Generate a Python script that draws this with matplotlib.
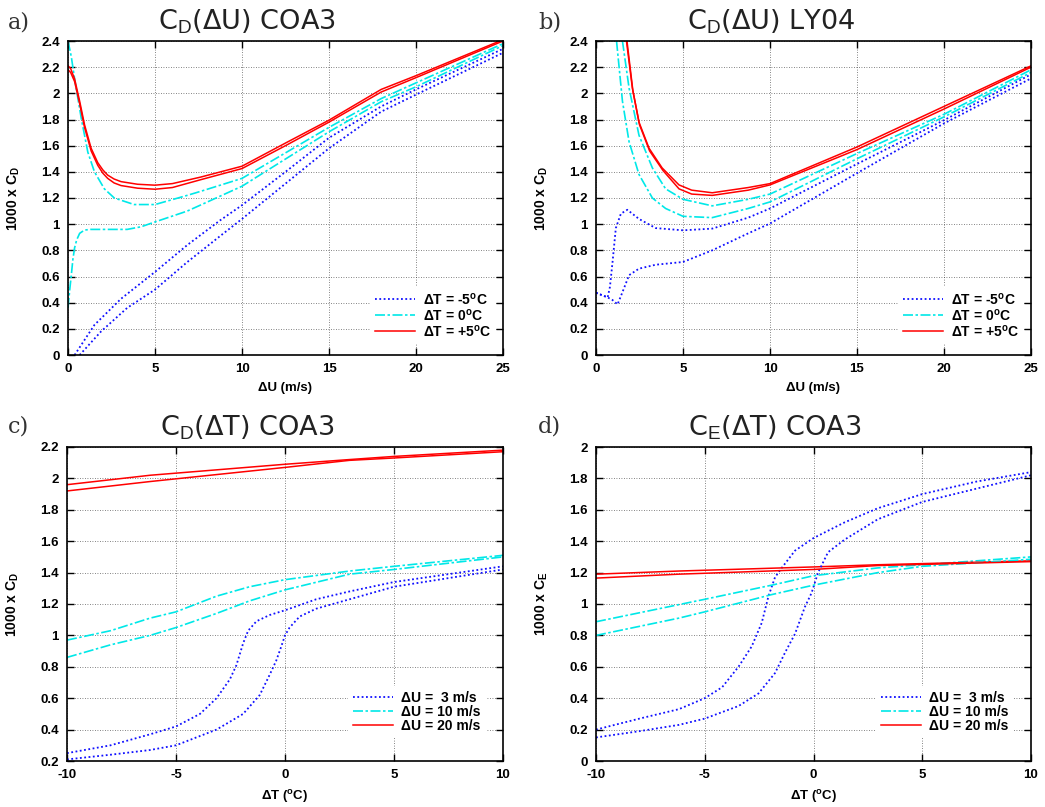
import matplotlib
matplotlib.use('Agg')
import matplotlib.pyplot as plt
from matplotlib.ticker import FuncFormatter

plt.rcParams['font.family'] = ['Liberation Sans', 'DejaVu Sans']
plt.rcParams['mathtext.fontset'] = 'custom'
plt.rcParams['mathtext.rm'] = 'Liberation Sans'
plt.rcParams['mathtext.bf'] = 'Liberation Sans:bold'
plt.rcParams['mathtext.it'] = 'Liberation Sans:italic'

# ---- panel a: C_D(dU) COA3 ----
a_m5_1_x = [0.38, 1.52, 3.05, 5, 6.85, 8.75, 10, 12.5, 15, 18, 20, 25]
a_m5_1_y = [0.0, 0.23, 0.43, 0.635, 0.84, 1.03, 1.145, 1.40, 1.66, 1.90, 2.03, 2.34]
a_m5_2_x = [0.67, 1.9, 3.4, 5, 6.85, 8.75, 10, 12.5, 15, 18, 20, 25]
a_m5_2_y = [0.0, 0.18, 0.36, 0.50, 0.71, 0.91, 1.04, 1.31, 1.58, 1.86, 1.99, 2.31]
a_0_1_x = [0, 0.19, 0.38, 0.76, 1.14, 1.52, 2.09, 2.66, 3.8, 5, 6.85, 7.6, 10, 15, 18, 20, 25]
a_0_1_y = [2.4, 2.28, 2.11, 1.81, 1.55, 1.40, 1.27, 1.20, 1.15, 1.15, 1.22, 1.25, 1.35, 1.74, 1.96, 2.08, 2.38]
a_0_2_x = [0, 0.1, 0.19, 0.28, 0.38, 0.5, 0.67, 0.95, 1.3, 1.9, 3.4, 4.2, 5, 6.85, 7.6, 10, 15, 18, 20, 25]
a_0_2_y = [0.36, 0.50, 0.61, 0.73, 0.82, 0.88, 0.93, 0.955, 0.96, 0.96, 0.96, 0.98, 1.017, 1.10, 1.145, 1.29, 1.706, 1.936, 2.05, 2.365]
a_p5_1_x = [0, 0.15, 0.38, 0.67, 0.95, 1.33, 1.71, 2.0, 2.28, 2.65, 3.05, 4, 5, 6, 7.63, 10, 12.5, 15, 18, 20, 25]
a_p5_1_y = [2.21, 2.19, 2.11, 1.94, 1.76, 1.58, 1.47, 1.415, 1.375, 1.345, 1.325, 1.305, 1.298, 1.31, 1.36, 1.443, 1.62, 1.795, 2.03, 2.135, 2.41]
a_p5_2_x = [0, 0.15, 0.38, 0.67, 0.95, 1.33, 1.71, 2.0, 2.28, 2.65, 3.05, 4, 5, 6, 7.63, 10, 12.5, 15, 18, 20, 25]
a_p5_2_y = [2.18, 2.16, 2.09, 1.92, 1.74, 1.56, 1.45, 1.39, 1.35, 1.315, 1.295, 1.275, 1.267, 1.28, 1.34, 1.425, 1.60, 1.78, 2.01, 2.12, 2.40]

# ---- panel b: C_D(dU) LY04 ----
b_m5_1_x = [0, 0.67, 0.8, 0.95, 1.14, 1.43, 1.8, 2.47, 3.43, 5, 6.68, 8.75, 10, 15, 20, 25]
b_m5_1_y = [0.476, 0.44, 0.52, 0.71, 0.97, 1.08, 1.11, 1.04, 0.97, 0.953, 0.966, 1.05, 1.12, 1.46, 1.795, 2.145]
b_m5_2_x = [0, 0.67, 0.95, 1.24, 1.52, 1.9, 2.47, 3.43, 5, 6.68, 8.75, 10, 15, 20, 25]
b_m5_2_y = [0.476, 0.44, 0.42, 0.387, 0.48, 0.61, 0.66, 0.69, 0.711, 0.80, 0.93, 1.005, 1.39, 1.77, 2.114]
b_0_1_x = [1.52, 1.9, 2.47, 3.24, 4, 5, 6.68, 8.75, 10, 15, 20, 25]
b_0_1_y = [2.4, 2.04, 1.68, 1.43, 1.27, 1.19, 1.14, 1.19, 1.23, 1.54, 1.84, 2.18]
b_0_2_x = [1.18, 1.52, 1.9, 2.47, 3.24, 4, 5, 6.68, 8.75, 10, 15, 20, 25]
b_0_2_y = [2.4, 1.94, 1.63, 1.38, 1.20, 1.12, 1.06, 1.05, 1.12, 1.17, 1.50, 1.82, 2.16]
b_p5_1_x = [1.75, 2.09, 2.47, 3.05, 3.8, 4.77, 5.5, 6.68, 8.75, 10, 15, 20, 25]
b_p5_1_y = [2.4, 2.04, 1.78, 1.58, 1.43, 1.30, 1.26, 1.24, 1.28, 1.31, 1.59, 1.90, 2.21]
b_p5_2_x = [1.78, 2.12, 2.5, 3.08, 3.85, 4.77, 5.5, 6.68, 8.75, 10, 15, 20, 25]
b_p5_2_y = [2.4, 2.02, 1.76, 1.56, 1.41, 1.27, 1.23, 1.22, 1.26, 1.30, 1.57, 1.88, 2.20]

# ---- panel c: C_D(dT) COA3 ----
c_3_1_x = [-10, -8, -6.19, -5, -3.9, -3.14, -2.53, -2.23, -1.92, -1.69, -1.31, -0.7, 0, 1.43, 2.96, 5, 7.5, 10]
c_3_1_y = [0.25, 0.30, 0.37, 0.42, 0.50, 0.60, 0.72, 0.81, 0.95, 1.03, 1.09, 1.13, 1.16, 1.23, 1.28, 1.34, 1.39, 1.44]
c_3_2_x = [-10, -8, -6.19, -5, -3.14, -1.92, -1.16, -0.7, -0.4, -0.17, 0, 0.21, 0.67, 1.43, 2.96, 5, 10]
c_3_2_y = [0.21, 0.24, 0.27, 0.30, 0.40, 0.50, 0.62, 0.75, 0.84, 0.93, 1.0, 1.05, 1.12, 1.17, 1.23, 1.31, 1.42]
c_10_1_x = [-10, -8, -6.19, -5, -3.14, -1.62, 0, 2.96, 5, 10]
c_10_1_y = [0.97, 1.03, 1.11, 1.15, 1.25, 1.31, 1.355, 1.41, 1.44, 1.51]
c_10_2_x = [-10, -8, -6.19, -5, -3.14, -1.62, 0, 2.96, 5, 10]
c_10_2_y = [0.86, 0.94, 1.0, 1.05, 1.14, 1.22, 1.29, 1.39, 1.42, 1.50]
c_20_1_x = [-10, -6.19, 0, 2.96, 5, 10]
c_20_1_y = [1.96, 2.02, 2.09, 2.12, 2.14, 2.18]
c_20_2_x = [-10, -6.19, 0, 2.96, 5, 10]
c_20_2_y = [1.92, 1.98, 2.07, 2.115, 2.13, 2.17]

# ---- panel d: C_E(dT) COA3 ----
d_3_1_x = [-10, -8, -6.19, -5, -4.2, -3.45, -2.84, -2.38, -2.07, -1.77, -1.46, -0.85, 0, 1.43, 2.96, 5, 7.5, 10]
d_3_1_y = [0.20, 0.27, 0.33, 0.40, 0.47, 0.60, 0.73, 0.88, 1.05, 1.17, 1.23, 1.34, 1.42, 1.52, 1.61, 1.70, 1.78, 1.84]
d_3_2_x = [-10, -8, -6.19, -5, -3.45, -2.53, -1.77, -1.31, -0.85, -0.4, -0.09, 0.21, 0.67, 1.43, 2.96, 5, 7.5, 10]
d_3_2_y = [0.15, 0.19, 0.23, 0.27, 0.35, 0.43, 0.56, 0.69, 0.81, 0.98, 1.07, 1.20, 1.33, 1.41, 1.54, 1.65, 1.735, 1.82]
d_10_1_x = [-10, -6.19, -5, -1.92, 0, 2.96, 5, 10]
d_10_1_y = [0.887, 0.996, 1.03, 1.12, 1.18, 1.23, 1.25, 1.30]
d_10_2_x = [-10, -6.19, -5, -1.92, 0, 2.96, 5, 10]
d_10_2_y = [0.80, 0.91, 0.95, 1.06, 1.12, 1.20, 1.24, 1.285]
d_20_1_x = [-10, -6.19, 0, 2.96, 10]
d_20_1_y = [1.19, 1.21, 1.236, 1.25, 1.275]
d_20_2_x = [-10, -6.19, 0, 2.96, 10]
d_20_2_y = [1.165, 1.19, 1.22, 1.245, 1.27]

leg_dT = [r'ΔT = -5$^{\mathbf{o}}$C', r'ΔT = 0$^{\mathbf{o}}$C', r'ΔT = +5$^{\mathbf{o}}$C']
leg_dU = ['ΔU =  3 m/s', 'ΔU = 10 m/s', 'ΔU = 20 m/s']

BLUE = '#1010ff'
CYAN = '#00e8e8'
RED = '#ff0000'
sty = [dict(color=BLUE, lw=1.3, ls=(0, (1, 1.4))),
       dict(color=CYAN, lw=1.2, ls=(0, (6, 1.5, 1.5, 1.5))),
       dict(color=RED, lw=1.1, ls='-')]

fig = plt.figure(figsize=(10.45, 8.07), dpi=100)
W, H = 1045., 807.


def make_ax(l, t, r, b):
    return fig.add_axes([l / W, 1 - b / H, (r - l) / W, (b - t) / H])


def style(ax, xlim, ylim, xticks, yticks, xlabel, ylabel):
    ax.set_xlim(*xlim)
    ax.set_ylim(*ylim)
    ax.set_xticks(xticks)
    ax.set_yticks(yticks)
    fmt = FuncFormatter(lambda v, p: '%g' % round(v, 3))
    ax.xaxis.set_major_formatter(fmt)
    ax.yaxis.set_major_formatter(fmt)
    ax.tick_params(direction='in', length=5, width=1, top=True, right=True,
                   labelsize=9.5, pad=6)
    for lab in ax.get_xticklabels() + ax.get_yticklabels():
        lab.set_fontweight('bold')
    ax.grid(True, color='#333333', lw=0.6, ls=(0, (1, 2)), alpha=0.8)
    ax.set_axisbelow(True)
    for s in ax.spines.values():
        s.set_linewidth(1.2)
    ax.set_xlabel(xlabel, fontsize=9.5, fontweight='bold')
    ax.set_ylabel(ylabel, fontsize=10, fontweight='bold')
    ax.xaxis.set_label_coords(0.5, -0.085)
    ax.yaxis.set_label_coords(-0.105, 0.5)


def legend(ax, labels, anchor):
    lg = ax.legend(labels, loc='lower right', bbox_to_anchor=anchor,
                   prop=dict(weight='bold', size=10), handlelength=2.9,
                   handletextpad=0.6, labelspacing=0.0, borderpad=0.35,
                   borderaxespad=0, frameon=True, fancybox=False,
                   facecolor='white', edgecolor='none', framealpha=1)
    lg.set_zorder(5)


# panel a
ax = make_ax(68, 41, 503, 355)
ax.plot(a_m5_1_x, a_m5_1_y, **sty[0])
ax.plot(a_0_1_x, a_0_1_y, **sty[1])
ax.plot(a_p5_1_x, a_p5_1_y, **sty[2])
ax.plot(a_m5_2_x, a_m5_2_y, **sty[0])
ax.plot(a_0_2_x, a_0_2_y, **sty[1])
ax.plot(a_p5_2_x, a_p5_2_y, **sty[2])
style(ax, (0, 25), (0, 2.4), range(0, 26, 5), [i * 0.2 for i in range(13)],
      'ΔU (m/s)', r'1000 x C$_{\mathbf{D}}$')
legend(ax, leg_dT, (0.985, 0.035))

# panel b
ax = make_ax(596, 41, 1031, 355)
ax.plot(b_m5_1_x, b_m5_1_y, **sty[0])
ax.plot(b_0_1_x, b_0_1_y, **sty[1])
ax.plot(b_p5_1_x, b_p5_1_y, **sty[2])
ax.plot(b_m5_2_x, b_m5_2_y, **sty[0])
ax.plot(b_0_2_x, b_0_2_y, **sty[1])
ax.plot(b_p5_2_x, b_p5_2_y, **sty[2])
style(ax, (0, 25), (0, 2.4), range(0, 26, 5), [i * 0.2 for i in range(13)],
      'ΔU (m/s)', r'1000 x C$_{\mathbf{D}}$')
legend(ax, leg_dT, (0.985, 0.035))

# panel c
ax = make_ax(67, 447, 503, 761)
ax.plot(c_3_1_x, c_3_1_y, **sty[0])
ax.plot(c_10_1_x, c_10_1_y, **sty[1])
ax.plot(c_20_1_x, c_20_1_y, **sty[2])
ax.plot(c_3_2_x, c_3_2_y, **sty[0])
ax.plot(c_10_2_x, c_10_2_y, **sty[1])
ax.plot(c_20_2_x, c_20_2_y, **sty[2])
style(ax, (-10, 10), (0.2, 2.2), range(-10, 11, 5), [0.2 + i * 0.2 for i in range(11)],
      r'ΔT ($^{\mathbf{o}}$C)', r'1000 x C$_{\mathbf{D}}$')
legend(ax, leg_dU, (0.96, 0.075))

# panel d
ax = make_ax(596, 447, 1031, 761)
ax.plot(d_3_1_x, d_3_1_y, **sty[0])
ax.plot(d_10_1_x, d_10_1_y, **sty[1])
ax.plot(d_20_1_x, d_20_1_y, **sty[2])
ax.plot(d_3_2_x, d_3_2_y, **sty[0])
ax.plot(d_10_2_x, d_10_2_y, **sty[1])
ax.plot(d_20_2_x, d_20_2_y, **sty[2])
style(ax, (-10, 10), (0, 2), range(-10, 11, 5), [i * 0.2 for i in range(11)],
      r'ΔT ($^{\mathbf{o}}$C)', r'1000 x C$_{\mathbf{E}}$')
legend(ax, leg_dU, (0.96, 0.075))

# titles and panel letters
titles = [r'C$_{\rm D}$(ΔU) COA3', r'C$_{\rm D}$(ΔU) LY04',
          r'C$_{\rm D}$(ΔT) COA3', r'C$_{\rm E}$(ΔT) COA3']
tpos = [(247, 30), (771, 30), (247, 436), (775, 436)]
letters = ['a)', 'b)', 'c)', 'd)']
lpos = [(8, 28), (538, 28), (8, 433), (538, 433)]
for t, (x, y) in zip(titles, tpos):
    fig.text(x / W, 1 - y / H, t, fontsize=19.5, ha='center', va='baseline',
             family='DejaVu Sans', color='#222222')
for t, (x, y) in zip(letters, lpos):
    fig.text(x / W, 1 - y / H, t, fontsize=16, ha='left', va='baseline',
             family='DejaVu Serif', color='#333333')

fig.savefig('out.png', dpi=100)
